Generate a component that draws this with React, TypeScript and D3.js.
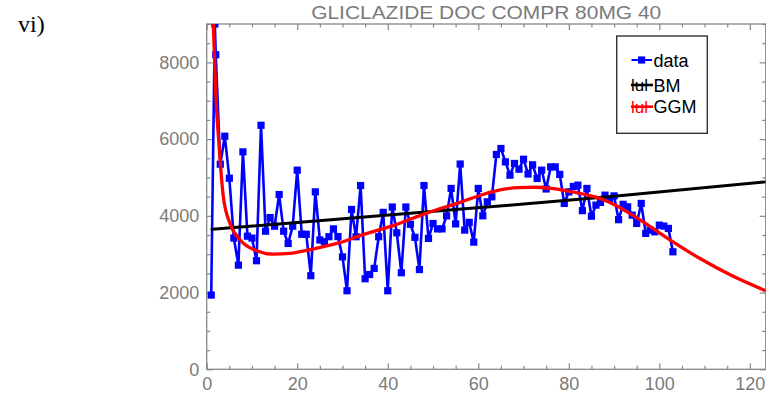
import * as d3 from "d3";
import { useEffect, useRef } from "react";

// observations (week index, value)
const dataX = [
  1, 1.8, 2, 3, 4, 5, 6, 7, 8, 9, 10, 11, 12, 13, 14, 15, 16, 17, 18, 19, 20,
  21, 22, 23, 24, 25, 26, 27, 28, 29, 30, 31, 32, 33, 34, 35, 36, 37, 38, 39, 40,
  41, 42, 43, 44, 45, 46, 47, 48, 49, 50, 51, 52, 53, 54, 55, 56, 57, 58, 59, 60,
  61, 62, 63, 64, 65, 66, 67, 68, 69, 70, 71, 72, 73, 74, 75, 76, 77, 78, 79, 80,
  81, 82, 83, 84, 85, 86, 87, 88, 89, 90, 91, 92, 93, 94, 95, 96, 97, 98, 99, 100,
  101, 102, 103,
];
const dataY = [
  1935, 9000, 8200, 5345, 6075, 4980, 3420, 2715, 5667, 3470, 3420, 2830, 6360, 3600, 3955, 3730, 4555, 3600, 3280, 3730, 5190,
  3520, 3520, 2440, 4625, 3370, 3325, 3455, 3660, 3460, 2930, 2047, 4166, 3455, 4790, 2360, 2470, 2630, 3455, 4090, 2047,
  4230, 3557, 2516, 4230, 3780, 3440, 2600, 4790, 3411, 3800, 3660, 3660, 4000, 4714, 3790, 5350, 3628, 3830, 3315, 4714,
  4000, 4365, 4495, 5600, 5755, 5406, 5060, 5365, 5215, 5475, 5090, 5330, 4974, 5190, 4700, 5276, 5276, 5080, 4323, 4625,
  4765, 4800, 4135, 4714, 3990, 4279, 4350, 4539, 4450, 4520, 3900, 4300, 4235, 4018, 3802, 4323, 3542, 3628, 3583, 3758,
  3732, 3672, 3063,
];

// fitted curves
const bmX = [0.9, 26.8, 57.7, 90, 123.5];
const bmY = [3646, 3890, 4190, 4510, 4885];

const ggmX = [1.45, 2.05, 2.6, 3.67, 5.15, 7.4, 11, 14.7, 18.4, 22.1, 25.8, 29.4, 34.2, 41.5, 48.9, 56.3, 61.4, 65.1, 68.8, 72.5, 76.1, 79.8, 83.5, 87.2, 90.1, 94.2, 101.5, 108.8, 116.2, 123.5];
const ggmY = [9000, 7050, 6050, 4500, 3800, 3370, 3090, 3000, 3020, 3100, 3200, 3300, 3497, 3758, 4085, 4365, 4570, 4680, 4735, 4745, 4715, 4645, 4560, 4440, 4290, 4010, 3440, 2900, 2430, 2047];

const xMajor = [0, 20, 40, 60, 80, 100, 120];
const yMajor = [0, 2000, 4000, 6000, 8000];

const legendLabels = ["data", "BM", "GGM"];
const legendColors = ["#0000ff", "#000000", "#ff0000"];

const title = "GLICLAZIDE DOC COMPR 80MG 40";

function Chart() {
  const ref = useRef<SVGSVGElement>(null);

  useEffect(() => {
    const svg = d3.select(ref.current);
    svg.selectAll("*").remove();

    const width = 766;
    const height = 394;
    const left = 206.7, right = 765.7, top = 24, bottom = 369.3;
    const font = "'Liberation Sans', Arial, sans-serif";
    const gray = "#878787";

    svg.attr("width", width).attr("height", height);

    const x = d3.scaleLinear().domain([0, 123.5]).range([left, right]);
    const y = d3.scaleLinear().domain([0, 9000]).range([bottom, top]);

    // panel label
    svg.append("text")
      .attr("x", 18)
      .attr("y", 32)
      .style("font-family", "'Liberation Serif', 'DejaVu Serif', serif")
      .style("font-size", "24px")
      .text("vi)");

    // title
    svg.append("text")
      .attr("x", (left + right) / 2)
      .attr("y", 19)
      .attr("text-anchor", "middle")
      .attr("textLength", 350)
      .attr("lengthAdjust", "spacingAndGlyphs")
      .style("font-family", font)
      .style("font-size", "19px")
      .attr("fill", "#7a7a7a")
      .text(title);

    // minor ticks (all four sides, pointing in)
    const xMinor = d3.range(0, 124, 5).filter(v => !xMajor.includes(v));
    const yMinor = d3.range(0, 9001, 500).filter(v => !yMajor.includes(v));

    const styleAxis = (g: any) => {
      g.select(".domain").remove();
      g.selectAll("line").attr("stroke", gray).attr("stroke-width", 1.2);
      g.selectAll("text")
        .attr("fill", "#7b7b7b")
        .style("font-family", font)
        .style("font-size", "18px");
    };

    svg.append("g").attr("transform", `translate(0,${bottom})`)
      .call(d3.axisBottom(x).tickValues(xMajor).tickSize(-6).tickPadding(8).tickFormat(d3.format("d")))
      .call(styleAxis);
    svg.append("g").attr("transform", `translate(0,${bottom})`)
      .call(d3.axisBottom(x).tickValues(xMinor).tickSize(-3.5).tickFormat(() => ""))
      .call(styleAxis);
    svg.append("g").attr("transform", `translate(0,${top})`)
      .call(d3.axisTop(x).tickValues(xMajor).tickSize(-6).tickFormat(() => ""))
      .call(styleAxis);
    svg.append("g").attr("transform", `translate(0,${top})`)
      .call(d3.axisTop(x).tickValues(xMinor).tickSize(-3.5).tickFormat(() => ""))
      .call(styleAxis);

    svg.append("g").attr("transform", `translate(${left},0)`)
      .call(d3.axisLeft(y).tickValues(yMajor).tickSize(-6).tickPadding(7.5).tickFormat(d3.format("d")))
      .call(styleAxis);
    svg.append("g").attr("transform", `translate(${left},0)`)
      .call(d3.axisLeft(y).tickValues(yMinor).tickSize(-3.5).tickFormat(() => ""))
      .call(styleAxis);
    svg.append("g").attr("transform", `translate(${right},0)`)
      .call(d3.axisRight(y).tickValues(yMajor).tickSize(-6).tickFormat(() => ""))
      .call(styleAxis);
    svg.append("g").attr("transform", `translate(${right},0)`)
      .call(d3.axisRight(y).tickValues(yMinor).tickSize(-3.5).tickFormat(() => ""))
      .call(styleAxis);

    // frame
    svg.append("rect")
      .attr("x", left).attr("y", top)
      .attr("width", right - left).attr("height", bottom - top)
      .attr("fill", "none")
      .attr("stroke", gray)
      .attr("stroke-width", 1.3);

    // clip to plot area
    svg.append("clipPath").attr("id", "plot-clip")
      .append("rect")
      .attr("x", left).attr("y", top)
      .attr("width", right - left).attr("height", bottom - top);

    const plot = svg.append("g").attr("clip-path", "url(#plot-clip)");

    const pts = dataX.map((d, i) => [d, dataY[i]] as [number, number]);
    const line = d3.line<[number, number]>().x(d => x(d[0])).y(d => y(d[1]));

    // data
    plot.append("path")
      .attr("d", line(pts))
      .attr("fill", "none")
      .attr("stroke", "#0000ff")
      .attr("stroke-width", 2.6)
      .attr("stroke-linejoin", "round");

    plot.selectAll("rect.pt")
      .data(pts)
      .enter()
      .append("rect")
      .attr("class", "pt")
      .attr("x", d => x(d[0]) - 3.6)
      .attr("y", d => y(d[1]) - 3.6)
      .attr("width", 7.2)
      .attr("height", 7.2)
      .attr("fill", "#0000ff");

    // BM
    const smooth = d3.line<[number, number]>().x(d => x(d[0])).y(d => y(d[1])).curve(d3.curveMonotoneX);
    plot.append("path")
      .attr("d", smooth(bmX.map((d, i) => [d, bmY[i]] as [number, number])))
      .attr("fill", "none")
      .attr("stroke", "#000")
      .attr("stroke-width", 3);

    // GGM
    plot.append("path")
      .attr("d", smooth(ggmX.map((d, i) => [d, ggmY[i]] as [number, number])))
      .attr("fill", "none")
      .attr("stroke", "#ff0000")
      .attr("stroke-width", 3.3);

    // legend
    const legend = svg.append("g");
    legend.append("rect")
      .attr("x", 616.7).attr("y", 36)
      .attr("width", 90.6).attr("height", 97.3)
      .attr("fill", "#fff")
      .attr("stroke", "#333")
      .attr("stroke-width", 1.4);

    legendLabels.forEach((k, i) => {
      const cy = [60, 85, 106.7][i];
      const row = legend.append("g");
      if (i === 0) {
        row.append("line").attr("x1", 631.5).attr("x2", 652).attr("y1", cy).attr("y2", cy)
          .attr("stroke", legendColors[i]).attr("stroke-width", 2);
        row.append("rect").attr("x", 638).attr("y", cy - 3.6).attr("width", 7.2).attr("height", 7.2)
          .attr("fill", legendColors[i]);
      } else {
        row.append("text").attr("x", 631).attr("y", cy + 6)
          .style("font-family", font).style("font-size", "17px")
          .attr("fill", legendColors[i]).text("lul");
        row.append("line").attr("x1", 631).attr("x2", 653).attr("y1", cy).attr("y2", cy)
          .attr("stroke", legendColors[i]).attr("stroke-width", 2.6);
      }
      row.append("text")
        .attr("x", 653.5)
        .attr("y", cy + 6.5)
        .style("font-family", font)
        .style("font-size", "18px")
        .attr("fill", "#000")
        .text(k);
    });
  }, []);

  return <svg ref={ref} style={{ position: "absolute", left: 0, top: 0 }} />;
}

export default function App() {
  return <Chart />;
}
